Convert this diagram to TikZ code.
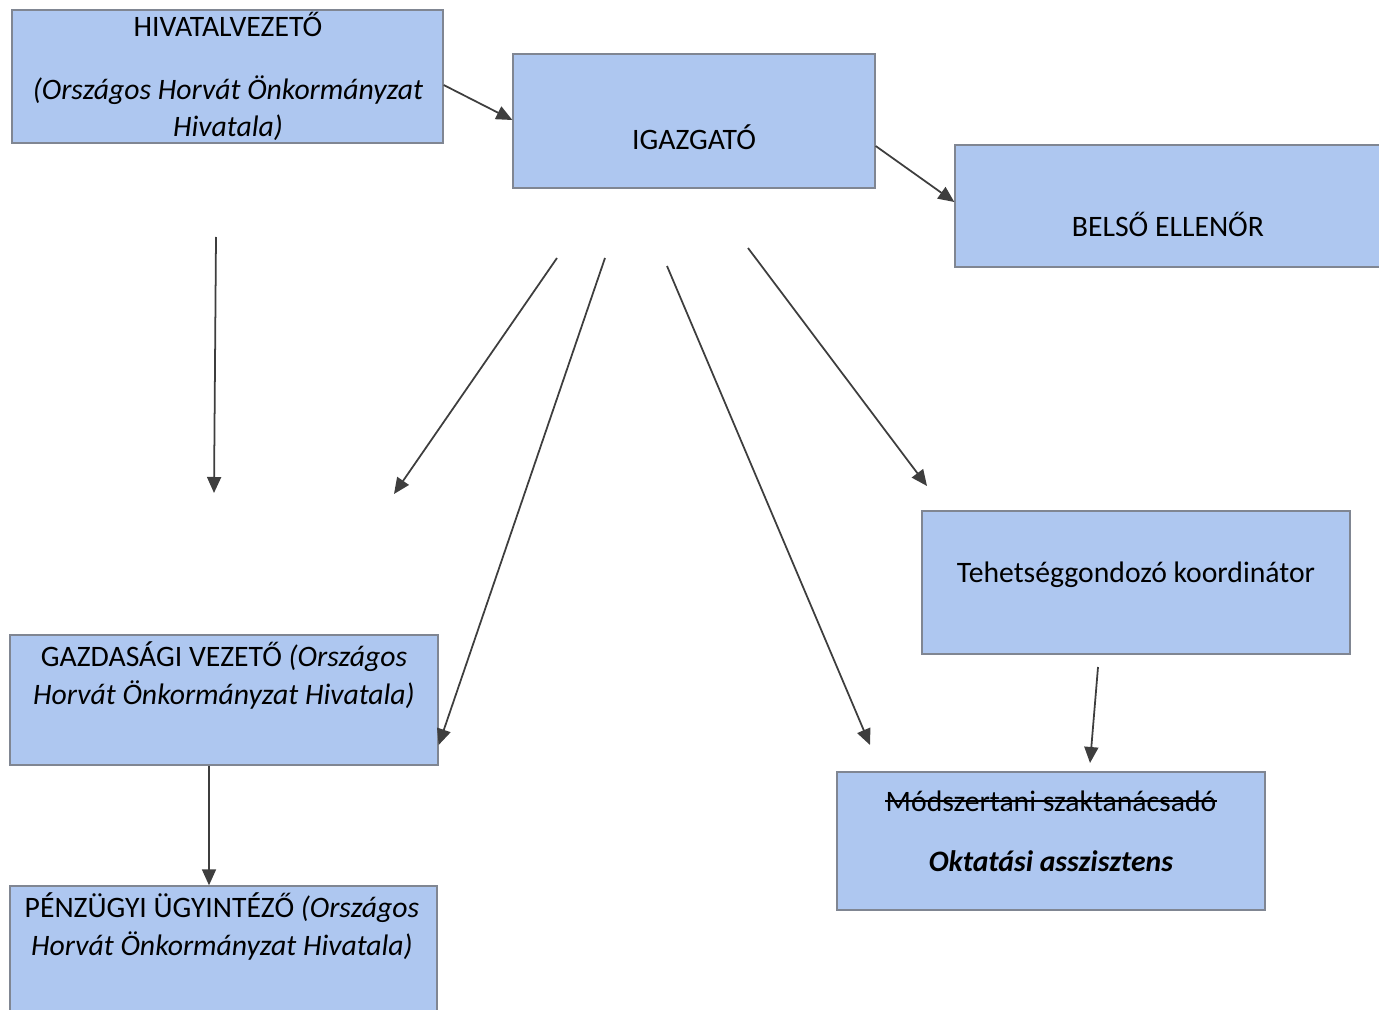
\documentclass[tikz,border=0pt]{standalone}
\usepackage{fontspec}
\setmainfont{Carlito}
\usetikzlibrary{arrows.meta}
\definecolor{boxblue}{RGB}{174,199,240}
\definecolor{boxline}{RGB}{128,134,146}
\definecolor{arrowgray}{RGB}{62,62,62}
\tikzset{
	unit/.style={draw=boxline, fill=boxblue, line width=0.8pt, inner sep=0pt},
	caption/.style={align=center, inner sep=0pt, anchor=base, font=\fontsize{16.9}{21.6}\selectfont},
	link/.style={draw=arrowgray, line width=1pt, -{Triangle[length=0.32cm,width=0.28cm]}}
}

\begin{document}
\begin{tikzpicture}[x=0.02cm, y=-0.02cm]
		\useasboundingbox (0,0) rectangle (1379,1010);
		\clip (0,0) rectangle (1379,1010);
		\node[unit, minimum width=8.62cm, minimum height=2.66cm] (hiv) at (227.5,76.5) {};
		\node[unit, minimum width=7.24cm, minimum height=2.68cm] (igaz) at (694,121) {};
		\node[unit, minimum width=8.9cm, minimum height=2.44cm] (bels) at (1177.5,206) {};
		\node[unit, minimum width=8.56cm, minimum height=2.86cm] (teh) at (1136,582.5) {};
		\node[unit, minimum width=8.56cm, minimum height=2.76cm] (mod) at (1051,841) {};
		\node[unit, minimum width=8.56cm, minimum height=2.6cm] (gaz) at (224,700) {};
		\node[unit, minimum width=8.54cm, minimum height=2.88cm] (penz) at (223.5,958) {};
		\node[caption] (hivtxt) at (228,137) {HIVATALVEZETŐ\\[0.5cm]\textit{(Országos Horvát Önkormányzat}\\\textit{Hivatala)}};
		\node[caption] (igaztxt) at (694,150) {IGAZGATÓ};
		\node[caption] (belstxt) at (1168,236) {BELSŐ ELLENŐR};
		\node[caption] (tehtxt) at (1136,582) {Tehetséggondozó koordinátor};
		\node[caption] (modtxt) at (1051,811) {Módszertani szaktanácsadó};
		\node[caption] (assztxt) at (1051,871) {\textbf{\textit{Oktatási asszisztens}}};
		\node[caption] (gaztxt) at (224,704) {GAZDASÁGI VEZETŐ \textit{(Országos}\\\textit{Horvát Önkormányzat Hivatala)}};
		\node[caption] (penztxt) at (222,955) {PÉNZÜGYI ÜGYINTÉZŐ \textit{(Országos}\\\textit{Horvát Önkormányzat Hivatala)}};
		\draw[line width=0.9pt] ([yshift=5.8pt]modtxt.base west) -- ([yshift=5.8pt]modtxt.base east);
		\coordinate (leftfrom) at (216,237);
		\coordinate (leftto) at (214,493);
		\coordinate (midfrom) at (557,258);
		\coordinate (midto) at (394,494);
		\coordinate (gazfrom) at (605,258);
		\coordinate (modfrom) at (667,266);
		\coordinate (modto) at (870,745);
		\coordinate (tehfrom) at (748,248);
		\coordinate (tehto) at (927,486);
		\coordinate (asszfrom) at (1098,667);
		\coordinate (asszto) at (1090,763);
		\draw[link] (hiv.east |- 0,85) -- (igaz.west |- 0,120);
		\draw[link] (igaz.east |- 0,146) -- (bels.west |- 0,202);
		\draw[link] (leftfrom) -- (leftto);
		\draw[link] (midfrom) -- (midto);
		\draw[link] (gazfrom) -- (gaz.east |- 0,745);
		\draw[link] (modfrom) -- (modto);
		\draw[link] (tehfrom) -- (tehto);
		\draw[link] (asszfrom) -- (asszto);
		\draw[link] (gaz.south -| 209,0) -- (penz.north -| 209,0);
	\end{tikzpicture}
\end{document}
